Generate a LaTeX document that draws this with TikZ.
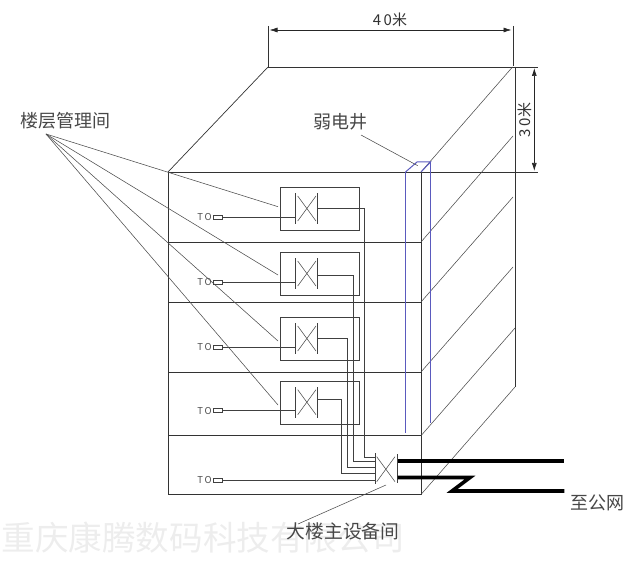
\documentclass[tikz,border=0pt]{standalone}
\usepackage{fontspec}
\usepackage{tikz}
\usetikzlibrary{calc,arrows.meta}
\newfontfamily\cjk{Noto Sans CJK SC}
\definecolor{shaftblue}{RGB}{90,90,190}

\begin{document}
\begin{tikzpicture}[x=1pt,y=-1pt,
    line join=miter,
    wall/.style={draw=black!80,line width=0.7pt},
    thinline/.style={draw=black!70,line width=0.55pt},
    shaftline/.style={draw=shaftblue,line width=1pt},
    wire/.style={draw=black!75,line width=0.75pt},
    trunk/.style={draw=black,line width=3.6pt},
    dimline/.style={draw=black!85,line width=0.7pt,{Latex[length=8pt,width=5pt]}-{Latex[length=8pt,width=5pt]}},
    lbl/.style={font=\cjk\fontsize{18}{18}\selectfont,text=black!72,inner sep=0pt},
    dimlbl/.style={font=\cjk\fontsize{15}{15}\selectfont,text=black!80,inner sep=0pt},
    tolbl/.style={font=\cjk\fontsize{9.5}{9.5}\selectfont,text=black!70,inner sep=0pt,anchor=east},
    toplug/.style={draw=black!75,line width=0.6pt,minimum width=9pt,minimum height=4pt,inner sep=0pt},
    roombox/.style={draw=black!75,line width=0.8pt,minimum width=79pt,minimum height=43.4pt,inner sep=0pt}]
  \useasboundingbox (0,0) rectangle (640,561);

  % watermark behind everything
  \node[font=\cjk\fontsize{33.6}{33.6}\selectfont,text=black!7,inner sep=0pt,anchor=east] (mark) at (405,538) {重庆康腾数码科技有限公司};

  % outline of the building
  \draw[wall] (168,172) -- (538,172);
  \draw[wall] (268,67) -- (538,67);
  \draw[wall] (168,172) -- (268,67);
  \draw[wall] (168,172) -- (168,494.5) -- (421,494.5) -- (421,172);
  \draw[wall] (515,67) -- (515,387);
  \draw[thinline] (421,172) -- (512.5,67);
  \draw[thinline] (421,494.5) -- (515,387);

  % floors, front and side
  \foreach \y/\ey/\ex in {242/136/513,302/197/513,372/267/513,435.7/328/515} {
    \draw[wall] (168,\y) -- (421,\y);
    \draw[thinline] (421,\y) -- (\ex,\ey);
  }

  % the shaft
  \draw[shaftline] (405.5,172) -- (405.5,433);
  \draw[shaftline] (430.5,162) -- (430.5,423);
  \draw[shaftline] (405.5,172) -- (417,162) -- (430.5,162) -- (421,172);

  % dimensions
  \draw[wall] (268,26) -- (268,67);
  \draw[wall] (513,26) -- (513,66);
  \coordinate (d40a) at (269.5,30);
  \coordinate (d40b) at (511.5,30);
  \draw[dimline] (d40a) -- (d40b);
  \coordinate (d30a) at (534.3,68);
  \coordinate (d30b) at (534.3,171);
  \draw[dimline] (d30a) -- (d30b);
  \node[dimlbl] (len) at (390,20) {4\,0米};
  \node[dimlbl,rotate=90] (wid) at (525,120) {3\,0米};

  % labels
  \node[lbl] (floorroom) at (65,121) {楼层管理间};
  \node[lbl] (shaft) at (340,122) {弱电井};
  \node[lbl,font=\cjk\fontsize{18.8}{18.8}\selectfont] (mainroom) at (343,531) {大楼主设备间};
  \node[lbl] (net) at (597,502.5) {至公网};

  \coordinate (shaftend) at (417.7,165.7);
  \coordinate (shaftstart) at (361,135);
  \draw[thinline] (shaftstart) -- (shaftend);
  \coordinate (mainstart) at (386,485);
  \coordinate (mainend) at (298,524);
  \draw[thinline] (mainstart) -- (mainend);

  % main switch
  \draw[wire] (375,453.3) -- (375,484.3);
  \draw[wire] (397,454.3) -- (397,483);
  \draw[thinline] (376.7,481.7) -- (395,456.7);
  \draw[thinline] (376.7,456.7) -- (395,481.7);

  % floor switch rooms
  \coordinate (leadhub) at (46,134);
  \foreach \i/\y/\oy/\wx/\iy/\ly in {1/209/208.3/364.5/457.3/206.7,2/274/275/353.5/461.7/275,3/339/338.3/347.3/467.7/341,4/402.7/399/341.7/473/405} {
    \node[roombox] (box\i) at (319.8,\y) {};
    \node[toplug] (plug\i) at (217.8,\y+8) {};
    \node[tolbl] (to\i) at (212,\y+8.5) {T\,O};
    \draw[wire] (295.7,\y-15.5) -- (295.7,\y+15);
    \draw[wire] (317.3,\y-15.5) -- (317.3,\y+15);
    \draw[thinline] (297.7,\y+12) -- (316,\y-13);
    \draw[thinline] (297.7,\y-13) -- (316,\y+12);
    \coordinate (swin\i) at (295.7,\y+8);
    \coordinate (swout\i) at (317.3,\oy);
    \coordinate (bend\i) at (\wx,\iy);
    \coordinate (mainin\i) at (375,\iy);
    \coordinate (lead\i) at (278,\ly);
    \draw[wire] (plug\i) -- (swin\i);
    \draw[wire] (swout\i) -| (bend\i) -- (mainin\i);
    \draw[thinline] (leadhub) -- (lead\i);
  }

  % ground floor outlet
  \node[toplug] (plug5) at (217.8,480) {};
  \node[tolbl] (to5) at (212,480.5) {T\,O};
  \coordinate (mainin5) at (375,480);
  \draw[wire] (plug5) -- (mainin5);

  % lines to the public network
  \coordinate (netup) at (564.3,461);
  \coordinate (netdown) at (564.3,491);
  \draw[trunk] (397.5,461) -- (netup);
  \draw[trunk] (397.5,477.5) -- (470,477.5) -- (452,491) -- (netdown);
\end{tikzpicture}
\end{document}
